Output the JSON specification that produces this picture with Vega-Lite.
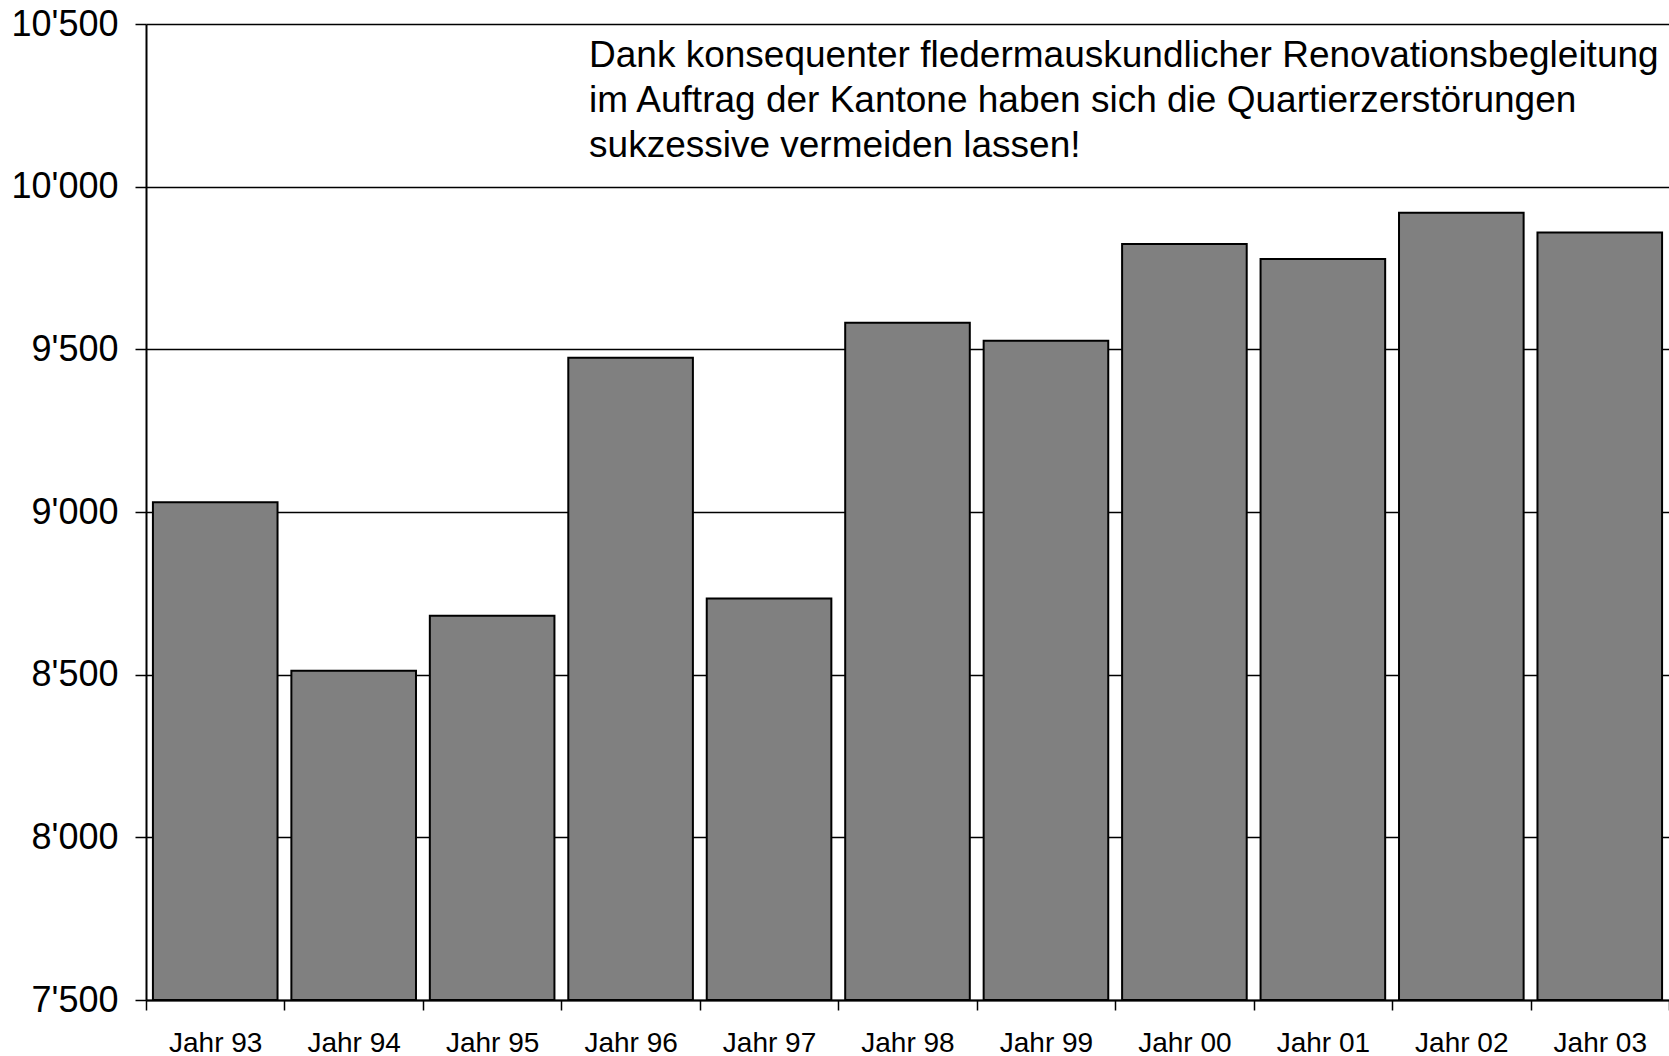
{
  "$schema": "https://vega.github.io/schema/vega-lite/v6.json",
  "autosize": {"type": "none"},
  "padding": {"left": 146, "top": 24, "right": 0, "bottom": 56},
  "width": 1523,
  "height": 976,
  "background": "white",
  "config": {
    "view": {"stroke": null},
    "font": "Liberation Sans"
  },
  "layer": [
    {
      "data": {
        "values": [
          {"jahr": "Jahr 93", "wert": 9030},
          {"jahr": "Jahr 94", "wert": 8512},
          {"jahr": "Jahr 95", "wert": 8681},
          {"jahr": "Jahr 96", "wert": 9474},
          {"jahr": "Jahr 97", "wert": 8734},
          {"jahr": "Jahr 98", "wert": 9582},
          {"jahr": "Jahr 99", "wert": 9526},
          {"jahr": "Jahr 00", "wert": 9824},
          {"jahr": "Jahr 01", "wert": 9778},
          {"jahr": "Jahr 02", "wert": 9920},
          {"jahr": "Jahr 03", "wert": 9859}
        ]
      },
      "mark": {"type": "bar", "fill": "#808080", "stroke": "black", "strokeWidth": 2, "clip": true, "width": {"band": 0.9}},
      "encoding": {
        "x": {
          "field": "jahr",
          "type": "nominal",
          "sort": null,
          "scale": {"paddingInner": 0, "paddingOuter": 0},
          "axis": {
            "title": null,
            "labelAngle": 0,
            "tickBand": "extent",
            "tickSize": 10,
            "tickColor": "black",
            "tickWidth": 1.5,
            "domainColor": "black",
            "domainWidth": 2,
            "labelFont": "Liberation Sans",
            "labelFontSize": 28,
            "labelColor": "black",
            "labelPadding": 19,
            "grid": false,
            "zindex": 1
          }
        },
        "y": {
          "field": "wert",
          "type": "quantitative",
          "scale": {"domain": [7500, 10500], "nice": false, "zero": false},
          "axis": {
            "title": null,
            "values": [7500, 8000, 8500, 9000, 9500, 10000, 10500],
            "labelExpr": "replace(format(datum.value, ','), ',', \"'\")",
            "grid": true,
            "gridColor": "black",
            "gridWidth": 1.5,
            "gridOpacity": 1,
            "tickSize": 11,
            "tickColor": "black",
            "tickWidth": 1.5,
            "domainColor": "black",
            "domainWidth": 2,
            "labelFont": "Liberation Sans",
            "labelFontSize": 36,
            "labelColor": "black",
            "labelPadding": 17
          }
        },
        "y2": {"datum": 7500}
      }
    },
    {
      "data": {
        "values": [
          {
            "jahr": "Jahr 96",
            "wert": 10368,
            "zeilen": [
              "Dank konsequenter fledermauskundlicher Renovationsbegleitung",
              "im Auftrag der Kantone haben sich die Quartierzerstörungen",
              "sukzessive vermeiden lassen!"
            ]
          }
        ]
      },
      "mark": {
        "type": "text",
        "align": "left",
        "baseline": "alphabetic",
        "font": "Liberation Sans",
        "fontSize": 37,
        "lineHeight": 45,
        "color": "black"
      },
      "encoding": {
        "x": {"field": "jahr", "type": "nominal", "sort": null, "bandPosition": 0.2},
        "y": {"field": "wert", "type": "quantitative"},
        "text": {"field": "zeilen"}
      }
    }
  ]
}
